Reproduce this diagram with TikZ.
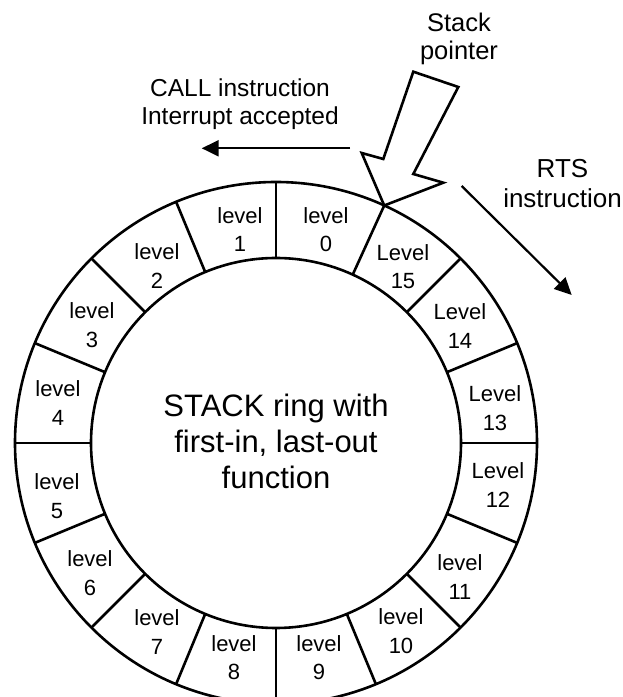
\documentclass[tikz,border=0pt]{standalone}
\usepackage{fontspec}
\setmainfont{Liberation Sans}
\usetikzlibrary{arrows.meta,calc}
\begin{document}
\begin{tikzpicture}[x=1pt,y=1pt,
  ringline/.style={line width=2.6pt},
  lvl/.style={font=\fontsize{22}{28.3}\selectfont, align=center, inner sep=0pt},
  flow/.style={line width=2.2pt, -{Triangle[length=17pt,width=16pt]}},
  pointer/.style={line width=2.6pt, line join=miter, fill=white}]
\useasboundingbox (0,0) rectangle (622,697);
\clip (0,0) rectangle (622,697);
\coordinate (c) at (276,254);
% ring
\draw[ringline] (c) circle[radius=261];
\draw[ringline] (c) circle[radius=185];
\foreach \a in {0,22.5,45,65.5,90,112.5,135,157.5,180,202.5,225,247.5,270,292.5,315,337.5}
  \draw[ringline] (c) ++(\a:185) -- ++(\a:76);
% level labels
\foreach \n/\x/\y/\w in {0/326/229.5/level, 1/240/229.5/level, 2/157/266/level,
  3/92/325/level, 4/58/403/level, 5/57/496/level, 6/90/573/level, 7/157/632/level,
  8/234/657.5/level, 9/319/657.5/level, 10/401/631/level, 11/460/577/level,
  12/498/485/Level, 13/495/408/Level, 14/460/326/Level, 15/403/266.5/Level}
  \node[lvl] (lv\n) at (\x, 697-\y) {\w\\\n};
% centre text
\node[align=center, inner sep=0pt, font=\fontsize{31}{36}\selectfont] (ringtext) at (276,256)
  {STACK ring with\\first-in, last-out\\function};
% stack pointer
\coordinate (tipc) at ($(c)+(65.5:261)$);
\coordinate (p1) at (413.3,625.3);
\coordinate (p2) at (458.3,610);
\coordinate (p3) at (413.3,523);
\coordinate (p4) at (443.3,514.3);
\coordinate (p6) at (361.7,544);
\coordinate (p7) at (383.3,538);
\draw[pointer] (p1) -- (p2) -- (p3) -- (p4) -- (tipc) -- (p6) -- (p7) -- cycle;
\node[align=center, inner sep=0pt, font=\fontsize{25.5}{28.5}\selectfont] (sptext) at (459,657.9) {Stack\\pointer};
% CALL arrow
\node[align=center, inner sep=0pt, font=\fontsize{24.5}{27.7}\selectfont] (calltext) at (240,592.8)
  {CALL instruction\\Interrupt accepted};
\coordinate (calls) at (350,548.7);
\coordinate (calle) at (201.7,548.7);
\draw[flow] (calls) -- (calle);
% RTS arrow
\node[align=center, inner sep=0pt, font=\fontsize{26}{29.7}\selectfont] (rtstext) at (562.5,513.5)
  {RTS\\instruction};
\coordinate (rtss) at (461.7,511);
\coordinate (rtse) at (571.7,402);
\draw[flow] (rtss) -- (rtse);
\end{tikzpicture}
\end{document}
